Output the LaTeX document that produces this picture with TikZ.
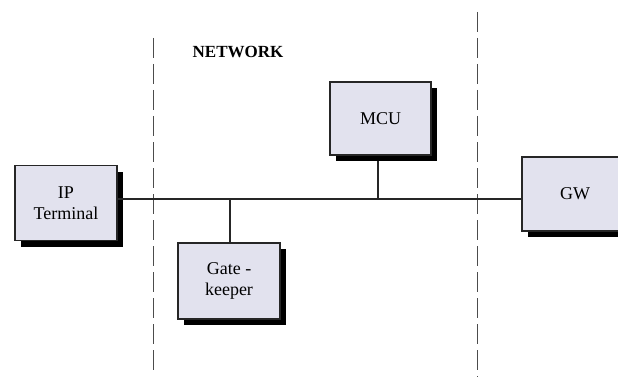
\documentclass[tikz,border=0pt]{standalone}
\usepackage{fontspec}
\setmainfont{Liberation Serif}
\usetikzlibrary{shadows}
\definecolor{boxfill}{RGB}{226,226,238}
\tikzset{
  unit/.style={draw=black!85, line width=1.1pt, fill=boxfill, align=center,
    font=\fontsize{18}{21}\selectfont, inner sep=0pt,
    drop shadow={shadow xshift=6pt, shadow yshift=-6pt, fill=black, opacity=1}},
  boundary/.style={draw=black!70, line width=1pt, dash pattern=on 20pt off 6pt},
  link/.style={draw=black!85, line width=1.1pt},
  label/.style={font=\fontsize{17}{20}\selectfont\bfseries}
}
\begin{document}
\begin{tikzpicture}[x=1pt,y=-1pt]
\useasboundingbox (0,0) rectangle (618,377);
\coordinate (lt) at (153,38);
\coordinate (lb) at (153,375);
\coordinate (rt) at (477,12);
\coordinate (rb) at (477,377);
\coordinate (bus) at (0,199);
\draw[boundary] (lt) -- (lb);
\draw[boundary] (rt) -- (rb);
\node[label] (net) at (238,52) {NETWORK};
\coordinate (mculine) at (378,160);
\coordinate (gkline) at (230,245);
\draw[link] (mculine) -- (mculine |- bus);
\draw[link] (gkline) -- (gkline |- bus);
\node[unit, minimum width=102pt, minimum height=75pt] (ip) at (66,203) {IP\\Terminal};
\node[unit, minimum width=102pt, minimum height=76pt] (gk) at (229,281) {Gate -\\keeper};
\node[unit, minimum width=101pt, minimum height=73pt] (mcu) at (380.5,118.5) {MCU};
\node[unit, minimum width=106pt, minimum height=74pt] (gw) at (575,194) {GW};
\draw[link] ([yshift=4pt]ip.east) -- ([yshift=-5pt]gw.west);
\end{tikzpicture}
\end{document}
